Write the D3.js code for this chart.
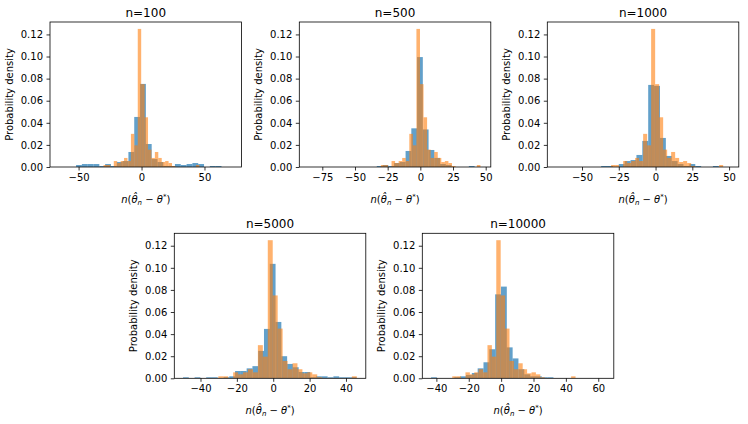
<!DOCTYPE html>
<html>
<head>
<meta charset="utf-8">
<script src="https://cdn.jsdelivr.net/npm/d3@7"></script>
<style>
  html, body { margin: 0; padding: 0; background: #fff; }
  svg { display: block; font-family: "DejaVu Sans", sans-serif; }
</style>
</head>
<body>
<svg id="chart" width="748" height="424"></svg>
<script>
// ---------- data ----------
const titles = ["n=100", "n=500", "n=1000", "n=5000", "n=10000"];
const xLimits = [[-72.7, 79.4], [-92.6, 53.9], [-73.6, 56.6], [-54.4, 50.9], [-48.7, 69.6]];
const xTicks = [[-50, 0, 50], [-75, -50, -25, 0, 25, 50], [-50, -25, 0, 25, 50], [-40, -20, 0, 20, 40], [-40, -20, 0, 20, 40, 60]];
const yTicks = [0, 0.02, 0.04, 0.06, 0.08, 0.10, 0.12];
const yMax = 0.13125;

// blue histograms (estimator), per panel: first bin edge, bin width, densities
const blueStart = [-52.0, -33.3, -37.0, -49.6, -43.3];
const blueWidth = [4.62, 4.4, 4.0, 3.18, 3.6];
const blueN100 = [0.0018,0.0027,0.0027,0.0027,0.0009,0.0027,0.0009,0.0045,0.0054,0.0136,0.0453,0.0752,0.0208,0.0072,0.0045,0.0009,0.0009,0.0027,0.0018,0.0027,0.0036,0.0027,0,0.0009,0.0009];
const blueN500 = [0.0009,0.0018,0.0009,0.0036,0.0045,0.0145,0.035,0.0995,0.034,0.0154,0.0082,0.0027,0.0018,0,0,0,0.0009];
const blueN1000 = [0.0009,0.0009,0,0.0027,0.0054,0.0063,0.0109,0.0236,0.0743,0.0734,0.0263,0.010,0.0054,0.0027,0.0009,0.0027,0.0009,0,0,0.0009];
const blueN5000 = [0.0009,0,0.0009,0,0.0009,0.0009,0,0.0009,0.0018,0.0066,0.0066,0.009,0.011,0.0248,0.0447,0.1036,0.051,0.020,0.013,0.010,0.0057,0.0057,0.0009,0.0018,0.0018,0.0009,0.0018,0.0009,0.0009,0.0009];
const blueN10000 = [0.0009,0,0,0,0.0009,0.0018,0.003,0.0048,0.009,0.0145,0.0263,0.076,0.083,0.028,0.018,0.0082,0.0036,0.0018,0.0018,0.0009,0.0009];
const blueDensities = [blueN100, blueN500, blueN1000, blueN5000, blueN10000];

// orange histogram (limit distribution), same in every panel
const orangeStart = -30.2;
const orangeWidth = 2.72;
const orangeDensity = [0.0018,0.0018,0,0.0054,0.0036,0.0054,0.0082,0.0054,0.030,0.0196,0.125,0.075,0.045,0.0157,0.0082,0.0136,0.0082,0.0045,0.0054,0.0036,0.0009,0,0,0,0,0,0,0.0018];

// ---------- layout ----------
const panels = [
  {left: 50,    top: 22},
  {left: 299.3, top: 22},
  {left: 547.3, top: 22},
  {left: 174.3, top: 233.3},
  {left: 422.3, top: 233.3}
];
const PW = 191.5, PH = 145;
const BLUE = "#1f77b4", ORANGE = "#ff7f0e";

const svg = d3.select("#chart");
const fmtX = d => d < 0 ? "\u2212" + Math.abs(d) : String(d);
const fmtY = d3.format(".2f");

function bins(start, width, dens) {
  return dens.map((d, i) => ({x0: start + i * width, x1: start + (i + 1) * width, d}))
             .filter(b => b.d > 0);
}

panels.forEach((p, k) => {
  const x = d3.scaleLinear().domain(xLimits[k]).range([0, PW]);
  const y = d3.scaleLinear().domain([0, yMax]).range([PH, 0]);
  const g = svg.append("g").attr("transform", `translate(${p.left},${p.top})`);

  const clipId = "clip" + k;
  g.append("clipPath").attr("id", clipId).append("rect").attr("width", PW).attr("height", PH);
  const plot = g.append("g").attr("clip-path", `url(#${clipId})`);

  plot.selectAll("rect.blue").data(bins(blueStart[k], blueWidth[k], blueDensities[k]))
    .join("rect").attr("class", "blue")
    .attr("x", b => x(b.x0)).attr("width", b => x(b.x1) - x(b.x0))
    .attr("y", b => y(b.d)).attr("height", b => y(0) - y(b.d))
    .attr("fill", BLUE).attr("fill-opacity", 0.7);

  plot.selectAll("rect.orange").data(bins(orangeStart, orangeWidth, orangeDensity))
    .join("rect").attr("class", "orange")
    .attr("x", b => x(b.x0)).attr("width", b => x(b.x1) - x(b.x0))
    .attr("y", b => y(b.d)).attr("height", b => y(0) - y(b.d))
    .attr("fill", ORANGE).attr("fill-opacity", 0.6);

  // axes
  const xa = g.append("g").attr("transform", `translate(0,${PH})`)
    .call(d3.axisBottom(x).tickValues(xTicks[k]).tickFormat(fmtX).tickSize(3.5).tickPadding(3.5));
  const ya = g.append("g")
    .call(d3.axisLeft(y).tickValues(yTicks).tickFormat(fmtY).tickSize(3.5).tickPadding(3.5));
  [xa, ya].forEach(a => {
    a.select(".domain").remove();
    a.selectAll("line").attr("stroke", "#000").attr("stroke-width", 0.8);
    a.selectAll("text").attr("fill", "#000").attr("font-size", 10)
      .attr("font-family", "DejaVu Sans, sans-serif");
  });

  // frame
  g.append("rect").attr("width", PW).attr("height", PH)
    .attr("fill", "none").attr("stroke", "#000").attr("stroke-width", 0.8);

  // title
  g.append("text").attr("x", PW / 2).attr("y", -5.5).attr("text-anchor", "middle")
    .attr("font-size", 12).attr("fill", "#000").text(titles[k]);

  // y label
  g.append("text").attr("transform", `translate(${-40},${PH / 2}) rotate(-90)`)
    .attr("text-anchor", "middle").attr("dominant-baseline", "middle")
    .attr("font-size", 10).attr("fill", "#000").text("Probability density");

  // x label: n(θ̂_n − θ*)
  const xl = g.append("text").attr("x", PW / 2).attr("y", PH + 36)
    .attr("text-anchor", "middle").attr("font-size", 10).attr("fill", "#000");
  xl.append("tspan").attr("font-style", "italic").text("n");
  xl.append("tspan").text("(");
  xl.append("tspan").attr("font-style", "italic").text("\u03b8\u0302");
  xl.append("tspan").attr("font-style", "italic").attr("font-size", 7).attr("dy", 2).text("n");
  xl.append("tspan").attr("dy", -2).text(" \u2212 ");
  xl.append("tspan").attr("font-style", "italic").text("\u03b8");
  xl.append("tspan").attr("font-size", 7).attr("dy", -4).text("*");
  xl.append("tspan").attr("dy", 4).text(")");
});
</script>
</body>
</html>
